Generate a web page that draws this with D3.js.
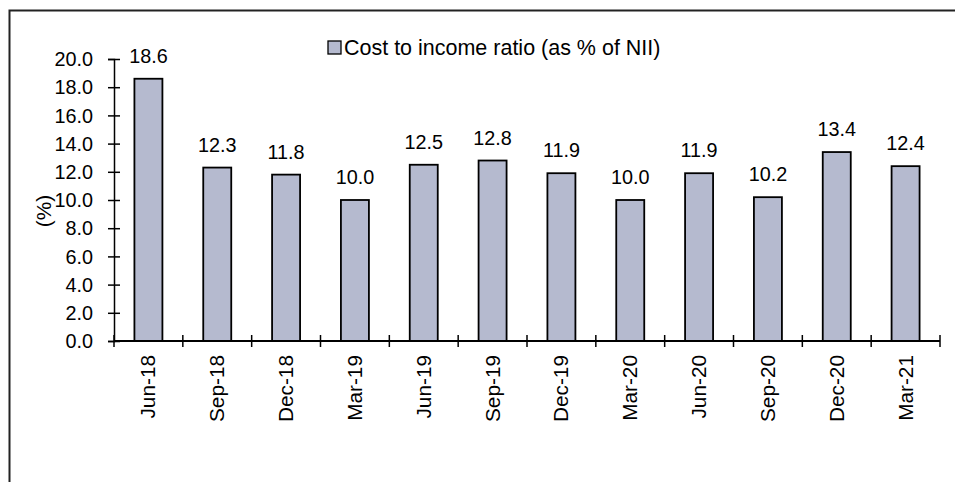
<!DOCTYPE html>
<html>
<head>
<meta charset="utf-8">
<script src="https://cdn.jsdelivr.net/npm/d3@7"></script>
<style>
  html, body { margin: 0; padding: 0; background: #fff; }
  svg text { font-family: "Liberation Sans", Arial, sans-serif; fill: #000; }
</style>
</head>
<body>
<svg id="chart" width="955" height="482"></svg>
<script>
// Quarterly cost to income ratio (as % of NII)
const quarters = ["Jun-18", "Sep-18", "Dec-18", "Mar-19", "Jun-19", "Sep-19",
                  "Dec-19", "Mar-20", "Jun-20", "Sep-20", "Dec-20", "Mar-21"];
const costToIncome = [18.6, 12.3, 11.8, 10.0, 12.5, 12.8, 11.9, 10.0, 11.9, 10.2, 13.4, 12.4];
const yTicks = [0, 2, 4, 6, 8, 10, 12, 14, 16, 18, 20];
const seriesName = "Cost to income ratio (as % of NII)";

const svg = d3.select("#chart");
const barFill = "#b5bacf";
const fontSize = 19.8;
const stretch = 1.05; // text is drawn slightly tall

// outer frame
svg.append("rect")
  .attr("x", 9.5).attr("y", 10.5)
  .attr("width", 1000).attr("height", 1000)
  .attr("fill", "none").attr("stroke", "#222").attr("stroke-width", 2);

const xb = d3.scaleBand().domain(quarters).range([114, 940]);
const y = d3.scaleLinear().domain([0, 20]).range([341, 59]);
const cx = q => xb(q) + xb.bandwidth() / 2;

// bars
svg.append("g").selectAll("rect")
  .data(costToIncome)
  .join("rect")
  .attr("x", (d, i) => cx(quarters[i]) - 14)
  .attr("width", 28)
  .attr("y", d => y(d))
  .attr("height", d => y(0) - y(d))
  .attr("fill", barFill)
  .attr("stroke", "#000")
  .attr("stroke-width", 1.8);

// value labels
svg.append("g").selectAll("text")
  .data(costToIncome)
  .join("text")
  .attr("transform", (d, i) => `translate(${cx(quarters[i])},${y(d) - 16}) scale(1,${stretch})`)
  .attr("text-anchor", "middle")
  .attr("font-size", fontSize)
  .text(d => d.toFixed(1));

// y axis
const yAxis = svg.append("g").attr("transform", "translate(114,0)")
  .call(d3.axisLeft(y).tickValues(yTicks).tickFormat(d => d.toFixed(1)).tickSize(6).tickPadding(15));
yAxis.select(".domain").attr("stroke", "#000").attr("stroke-width", 1.5);
yAxis.selectAll(".tick line").attr("x2", 6).attr("x1", -6).attr("stroke-width", 1.5);
yAxis.selectAll(".tick text")
  .attr("font-size", fontSize)
  .attr("font-family", "Liberation Sans, Arial, sans-serif")
  .attr("transform", `scale(1,${stretch})`);

// x axis
const xAxisG = svg.append("g").attr("transform", `translate(0,${y(0)})`);
xAxisG.append("line")
  .attr("x1", 114).attr("x2", 940)
  .attr("stroke", "#000").attr("stroke-width", 1.8);
const boundaries = quarters.map(q => xb(q)).concat([xb(quarters[quarters.length - 1]) + xb.bandwidth()]);
xAxisG.selectAll("line.tk")
  .data(boundaries)
  .join("line")
  .attr("class", "tk")
  .attr("x1", d => d).attr("x2", d => d)
  .attr("y1", -6).attr("y2", 6)
  .attr("stroke", "#000").attr("stroke-width", 1.5);
xAxisG.selectAll("text")
  .data(quarters)
  .join("text")
  .attr("transform", d => `translate(${cx(d)},14) rotate(-90) scale(${stretch},1)`)
  .attr("text-anchor", "end")
  .attr("dy", "0.35em")
  .attr("font-size", fontSize)
  .text(d => d);

// y axis title
svg.append("text")
  .attr("transform", `translate(44,211) rotate(-90) scale(${stretch},1)`)
  .attr("text-anchor", "middle")
  .attr("dy", "0.35em")
  .attr("font-size", fontSize)
  .text("(%)");

// legend
const legend = svg.append("g").attr("transform", "translate(328,41)");
legend.append("rect")
  .attr("width", 13).attr("height", 13)
  .attr("fill", barFill).attr("stroke", "#000").attr("stroke-width", 1.3);
legend.append("text")
  .attr("transform", `translate(16,6.5) scale(1,${stretch})`)
  .attr("dy", "0.35em")
  .attr("font-size", 21.5)
  .text(seriesName);
</script>
</body>
</html>
